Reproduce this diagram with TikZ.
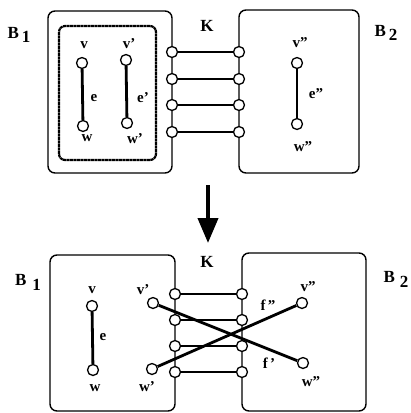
\documentclass[tikz,border=0pt]{standalone}
\usepackage{fontspec}
\setmainfont{Liberation Serif}
\usetikzlibrary{arrows.meta}
\begin{document}
\begin{tikzpicture}[x=1pt,y=-1pt,
  box/.style={draw=black,line width=1.4pt,rounded corners=7pt},
  innerbox/.style={draw=black,line width=2.2pt,dash pattern=on 3pt off 0.5pt,rounded corners=6pt},
  vtx/.style={circle,draw=black,fill=white,line width=1.3pt,minimum size=11pt,inner sep=0pt},
  kline/.style={draw=black,line width=1.2pt},
  edgeline/.style={draw=black,line width=2.8pt},
  lbl/.style={font=\bfseries\fontsize{15}{15}\selectfont,inner sep=0pt},
  big/.style={font=\bfseries\fontsize{17}{17}\selectfont,inner sep=0pt}]
\useasboundingbox (0,0) rectangle (411,413);

% ---------- top ----------
\draw[box] (48,11) rectangle (172,173);
\draw[innerbox] (59,26) rectangle (156,160);
\draw[box] (239,10) rectangle (359,173);

\foreach \i/\y in {1/52,2/79,3/105,4/132}{
  \node[vtx] (ta\i) at (172,\y) {};
  \node[vtx] (tb\i) at (239,\y) {};
}
\foreach \i in {1,...,4}{\draw[kline] (ta\i) -- (tb\i);}

\node[vtx] (tv) at (82,63) {};
\node[vtx] (tw) at (83,126) {};
\node[vtx] (tvp) at (126,60) {};
\node[vtx] (twp) at (127,123) {};
\node[vtx] (tvpp) at (297,63) {};
\node[vtx] (twpp) at (297,124) {};
\draw[edgeline] (tv) -- (tw);
\draw[edgeline] (tvp) -- (twp);
\draw[edgeline] (tvpp) -- (twpp);

\node[lbl] (ltv) at (84,45) {v};
\node[lbl] (ltw) at (87,138) {w};
\node[lbl] (lte) at (94,98) {e};
\node[lbl] (ltvp) at (129,44) {v'};
\node[lbl] (ltwp) at (135,139) {w'};
\node[lbl] (ltep) at (143,98) {e'};
\node[lbl] (ltvpp) at (300,43) {v''};
\node[lbl] (ltwpp) at (303,147) {w''};
\node[lbl] (ltepp) at (316,94) {e''};
\node[big] (tK) at (207,26) {K};
\node[big] (tB1) at (19,35) {B\,\raisebox{-4pt}{1}};
\node[big] (tB2) at (386,33) {B\,\raisebox{-4pt}{2}};

% ---------- arrow ----------
\coordinate (as) at (208,185);
\coordinate (ae) at (208,243);
\draw[line width=4pt,-{Triangle[length=25pt,width=20pt]}] (as) -- (ae);

% ---------- bottom ----------
\draw[box] (50,255) rectangle (175,411);
\draw[box] (242,253) rectangle (366,411);

\foreach \i/\y in {1/294,2/320,3/346,4/372}{
  \node[vtx] (ba\i) at (175,\y) {};
  \node[vtx] (bb\i) at (242,\y) {};
}
\foreach \i in {1,...,4}{\draw[kline] (ba\i) -- (bb\i);}

\node[vtx] (bv) at (92,306) {};
\node[vtx] (bw) at (93,370) {};
\node[vtx] (bvp) at (153,303) {};
\node[vtx] (bwp) at (152,369) {};
\node[vtx] (bvpp) at (302,303) {};
\node[vtx] (bwpp) at (303,363) {};
\draw[edgeline] (bv) -- (bw);
\draw[edgeline] (bvp) -- (bwpp);
\draw[edgeline] (bwp) -- (bvpp);

\node[lbl] (lbv) at (92,290) {v};
\node[lbl] (lbw) at (95,388) {w};
\node[lbl] (lbe) at (103,337) {e};
\node[lbl] (lbvp) at (143,290) {v'};
\node[lbl] (lbwp) at (147,387) {w'};
\node[lbl] (lbvpp) at (308,287) {v''};
\node[lbl] (lbwpp) at (311,382) {w''};
\node[lbl] (lbfpp) at (268,305) {f\,''};
\node[lbl] (lbfp) at (269,363) {f\,'};
\node[big] (bK) at (207,262) {K};
\node[big] (bB1) at (28,282) {B\hspace{6pt}\raisebox{-5pt}{1}};
\node[big] (bB2) at (396,279) {B\hspace{5pt}\raisebox{-5pt}{2}};
\end{tikzpicture}
\end{document}
